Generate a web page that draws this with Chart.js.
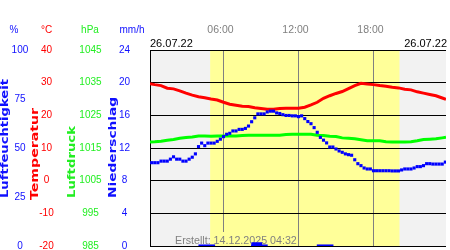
<!DOCTYPE html>
<html><head><meta charset="utf-8">
<script src="https://cdn.jsdelivr.net/npm/chart.js@4/dist/chart.umd.min.js"></script>
<style>html,body{margin:0;padding:0;background:#fff;}canvas{display:block;}</style>
</head><body>
<canvas id="c" width="450" height="250" style="width:450px;height:250px"></canvas>
<script>
// ---- data ----
const dateLabel = '26.07.22';
const createdLabel = 'Erstellt: 14.12.2025 04:32';
const timeTicks = [6, 12, 18];
const timeLabels = ['06:00', '12:00', '18:00'];
const daylight = [4.93, 20.08];           // sunrise / sunset (hours)
const xRange = [0.118, 23.802];           // hours shown

const humTicks = [0, 25, 50, 75, 100];
const tempTicks = [-20, -10, 0, 10, 20, 30, 40];
const presTicks = [985, 995, 1005, 1015, 1025, 1035, 1045];
const rainTicks = [0, 4, 8, 12, 16, 20, 24];

const hours = [0.12, 0.5, 1, 1.5, 2, 2.5, 3, 3.5, 4, 4.5, 5, 5.5, 6, 6.5, 7, 7.5, 8, 8.5, 9, 9.5,
  10, 10.5, 11, 11.5, 12, 12.5, 13, 13.5, 14, 14.5, 15, 15.5, 16, 16.5, 17, 17.5, 18, 18.5, 19, 19.5,
  20, 20.5, 21, 21.5, 22, 22.5, 23, 23.5, 23.8];
const temperature = [29.7, 29.4, 29.1, 28.3, 28.1, 27.5, 26.8, 26.2, 25.7, 25.4, 25.0, 24.7, 24.0, 23.4, 23.1, 22.8, 22.7, 22.3, 22.1, 21.9,
  21.9, 22.1, 22.2, 22.2, 22.2, 22.5, 23.2, 24.0, 25.2, 26.0, 26.7, 27.3, 28.2, 29.1, 29.8, 29.6, 29.4, 29.1, 28.9, 28.6,
  28.4, 28.0, 27.8, 27.2, 26.8, 26.4, 26.0, 25.3, 24.9];
const pressure = [1016.8, 1016.9, 1017.1, 1017.4, 1017.6, 1018.0, 1018.2, 1018.4, 1018.7, 1018.7, 1018.6, 1018.7, 1018.7, 1018.7, 1018.7, 1018.8, 1018.9, 1018.9, 1018.9, 1018.9,
  1018.9, 1018.9, 1019.1, 1019.2, 1019.2, 1019.2, 1019.2, 1018.9, 1018.8, 1018.6, 1018.5, 1018.1, 1018.0, 1017.8, 1017.5, 1017.2, 1017.2, 1017.2, 1016.9, 1016.8,
  1016.8, 1016.8, 1016.9, 1017.2, 1017.6, 1017.7, 1017.8, 1018.1, 1018.3];

const humHours = [0.25, 0.5, 0.75, 1, 1.25, 1.5, 1.75, 2, 2.25, 2.5, 2.75, 3, 3.25, 3.5, 3.75, 4, 4.25, 4.5, 4.75, 5,
  5.25, 5.5, 5.75, 6, 6.25, 6.5, 6.75, 7, 7.25, 7.5, 7.75, 8, 8.25, 8.5, 8.75, 9, 9.25, 9.5, 9.75, 10,
  10.25, 10.5, 10.75, 11, 11.25, 11.5, 11.75, 12, 12.25, 12.5, 12.75, 13, 13.25, 13.5, 13.75, 14, 14.25, 14.5, 14.75, 15,
  15.25, 15.5, 15.75, 16, 16.25, 16.5, 16.75, 17, 17.25, 17.5, 17.75, 18, 18.25, 18.5, 18.75, 19, 19.25, 19.5, 19.75, 20,
  20.25, 20.5, 20.75, 21, 21.25, 21.5, 21.75, 22, 22.25, 22.5, 22.75, 23, 23.25, 23.5, 23.75];
const humidity = [42.5, 42.5, 42.5, 43.3, 43.3, 43.3, 44.3, 45.5, 44.3, 44.3, 43.3, 43.3, 44.3, 45.3, 47.0, 50.7, 52.5, 51.2, 52.5, 52.5,
  52.5, 53.4, 54.5, 55.8, 57.0, 57.5, 58.7, 58.7, 59.5, 59.5, 60.0, 61.2, 63.4, 65.4, 67.4, 67.4, 67.4, 68.4, 68.8, 68.8,
  67.9, 67.6, 67.0, 66.6, 66.6, 66.4, 66.4, 66.0, 66.4, 65.0, 63.5, 62.4, 60.4, 58.0, 55.4, 54.0, 52.6, 50.5, 50.5, 49.5,
  48.5, 47.8, 47.0, 46.6, 46.3, 44.0, 42.0, 41.0, 39.8, 39.3, 39.3, 38.4, 38.4, 38.4, 38.4, 38.4, 38.4, 38.3, 38.3, 38.3,
  38.8, 39.3, 39.3, 39.3, 39.8, 40.5, 40.5, 41.0, 42.0, 42.0, 41.8, 41.8, 41.8, 41.8, 42.8];

const rainHours = [4.66, 8.87, 14.13];
const rain = [0.15, 0.15, 0.15];
const rainPeakHours = [8.66];
const rainPeak = [0.42];

// ---- colours / fonts ----
const BLUE = '#1010ff', RED = '#ff0000', GREEN = '#22ee22', GREY = '#808080';
const FONT = "'Liberation Sans', Arial, sans-serif";
const NIGHT = '#f2f2f2', DAY = '#ffff99';

const pts = (xs, ys) => xs.map((x, i) => ({x, y: ys[i]}));

function yAxis(ticksArr, color, width, pad, weight, opts) {
  return Object.assign({
    type: 'linear', position: 'left', weight, min: ticksArr[0], max: ticksArr[ticksArr.length - 1],
    afterBuildTicks: s => { s.ticks = ticksArr.map(v => ({value: v})); },
    afterFit: s => { s.width = width; s.paddingTop = 0; s.paddingBottom = 0; },
    ticks: { color, font: {family: FONT, size: 10}, padding: pad, crossAlign: 'center', autoSkip: false,
      callback: v => String(v) },
    grid: { display: false, drawTicks: false },
    border: { display: false }
  }, opts || {});
}

function vText(ctx, text, cx, bottom, len, color) {
  ctx.save();
  ctx.font = "bold 10px 'DejaVu Sans', sans-serif";
  const w = ctx.measureText(text).width;
  ctx.translate(cx, bottom);
  ctx.rotate(-Math.PI / 2);
  ctx.scale(len / w, 1);
  ctx.fillStyle = color; ctx.textAlign = 'left'; ctx.textBaseline = 'middle';
  ctx.fillText(text, 0, 0);
  ctx.restore();
}

const decor = {
  id: 'decor',
  beforeDraw(chart) {
    const {ctx, chartArea: a, scales: {x}} = chart;
    ctx.save();
    ctx.fillStyle = NIGHT;
    ctx.fillRect(a.left, a.top, a.right - a.left, a.bottom - a.top);
    const x0 = x.getPixelForValue(daylight[0]), x1 = x.getPixelForValue(daylight[1]);
    ctx.fillStyle = DAY;
    ctx.fillRect(x0, a.top, x1 - x0, a.bottom - a.top);
    ctx.restore();
  },
  beforeDatasetsDraw(chart) {
    const {ctx, chartArea: a, scales: {x}} = chart;
    const x0 = x.getPixelForValue(daylight[0]), x1 = x.getPixelForValue(daylight[1]);
    const bx0 = 174, bx1 = 298, by0 = 232, by1 = a.bottom;
    ctx.save();
    ctx.fillStyle = NIGHT; ctx.fillRect(bx0, by0, bx1 - bx0, by1 - by0);
    const l = Math.max(bx0, x0), r = Math.min(bx1, x1);
    if (r > l) { ctx.fillStyle = DAY; ctx.fillRect(l, by0, r - l, by1 - by0); }
    ctx.fillStyle = GREY; ctx.font = '10.7px ' + FONT;
    ctx.textAlign = 'left'; ctx.textBaseline = 'middle';
    ctx.fillText(createdLabel, 175, 241.5);
    ctx.restore();
  },
  afterDraw(chart) {
    const {ctx} = chart;
    ctx.save();
    ctx.font = '10px ' + FONT; ctx.textAlign = 'center'; ctx.textBaseline = 'middle';
    ctx.fillStyle = BLUE; ctx.fillText('%', 14, 30.5);
    ctx.fillStyle = RED; ctx.fillText('°C', 46.5, 30.5);
    ctx.fillStyle = GREEN; ctx.fillText('hPa', 90, 30.5);
    ctx.fillStyle = BLUE; ctx.fillText('mm/h', 132, 30.5);
    ctx.font = '11px ' + FONT; ctx.fillStyle = '#000';
    ctx.textAlign = 'left'; ctx.fillText(dateLabel, 150, 43.5);
    ctx.textAlign = 'right'; ctx.fillText(dateLabel, 447, 43.5);
    ctx.restore();
    vText(ctx, 'Luftfeuchtigkeit', 5.8, 198, 119, BLUE);
    vText(ctx, 'Temperatur', 35.8, 200, 92, RED);
    vText(ctx, 'Luftdruck', 72, 198, 72, GREEN);
    vText(ctx, 'Niederschlag', 113.8, 198, 101, BLUE);
  }
};

new Chart(document.getElementById('c'), {
  data: {
    datasets: [
      { type: 'line', label: 'Luftfeuchtigkeit', data: pts(humHours, humidity), yAxisID: 'yH',
        showLine: false, pointStyle: 'rect', pointRadius: 2.2, pointBorderWidth: 0,
        pointBackgroundColor: '#0000ff', borderColor: '#0000ff' },
      { type: 'line', label: 'Temperatur', data: pts(hours, temperature), yAxisID: 'yT',
        borderColor: RED, borderWidth: 3, pointRadius: 0, tension: 0 },
      { type: 'line', label: 'Luftdruck', data: pts(hours, pressure), yAxisID: 'yP',
        borderColor: '#00ff00', borderWidth: 3, pointRadius: 0, tension: 0 },
      { type: 'bar', label: 'Niederschlag', data: pts(rainPeakHours, rainPeak), yAxisID: 'yR',
        backgroundColor: '#0000ff', barThickness: 10, grouped: false, borderWidth: 0 },
      { type: 'bar', label: 'Niederschlag2', data: pts(rainHours, rain), yAxisID: 'yR',
        backgroundColor: '#0000ff', barThickness: 16, grouped: false, borderWidth: 0 }
    ]
  },
  options: {
    responsive: false, animation: false, devicePixelRatio: 1,
    layout: { padding: { top: 0, left: 0, right: 0, bottom: 2 } },
    plugins: { legend: { display: false }, tooltip: { enabled: false }, title: { display: false } },
    scales: {
      x: {
        type: 'linear', position: 'top', min: xRange[0], max: xRange[1], offset: false, bounds: 'data',
        afterBuildTicks: s => { s.ticks = timeTicks.map(v => ({value: v})); },
        afterFit: s => { s.height = 50; s.paddingLeft = 0; s.paddingRight = 0; },
        ticks: { callback: v => timeLabels[timeTicks.indexOf(v)], color: GREY,
          font: {family: FONT, size: 10.5}, padding: 13.7, labelOffset: -3, maxRotation: 0, autoSkip: false },
        grid: { color: GREY, lineWidth: 1, drawTicks: false, offset: false },
        border: { display: false }
      },
      yH: yAxis(humTicks, BLUE, 32, 3.7, 4),
      yT: yAxis(tempTicks, RED, 25, 3.3, 3, {
        grid: { display: true, color: '#000', lineWidth: 1, drawTicks: false } }),
      yP: yAxis(presTicks, GREEN, 48, 3.4, 2),
      yR: yAxis(rainTicks, BLUE, 45, 19.9, 1, { border: { display: true, color: '#000', width: 1 } })
    }
  },
  plugins: [decor]
});
</script>
</body></html>
